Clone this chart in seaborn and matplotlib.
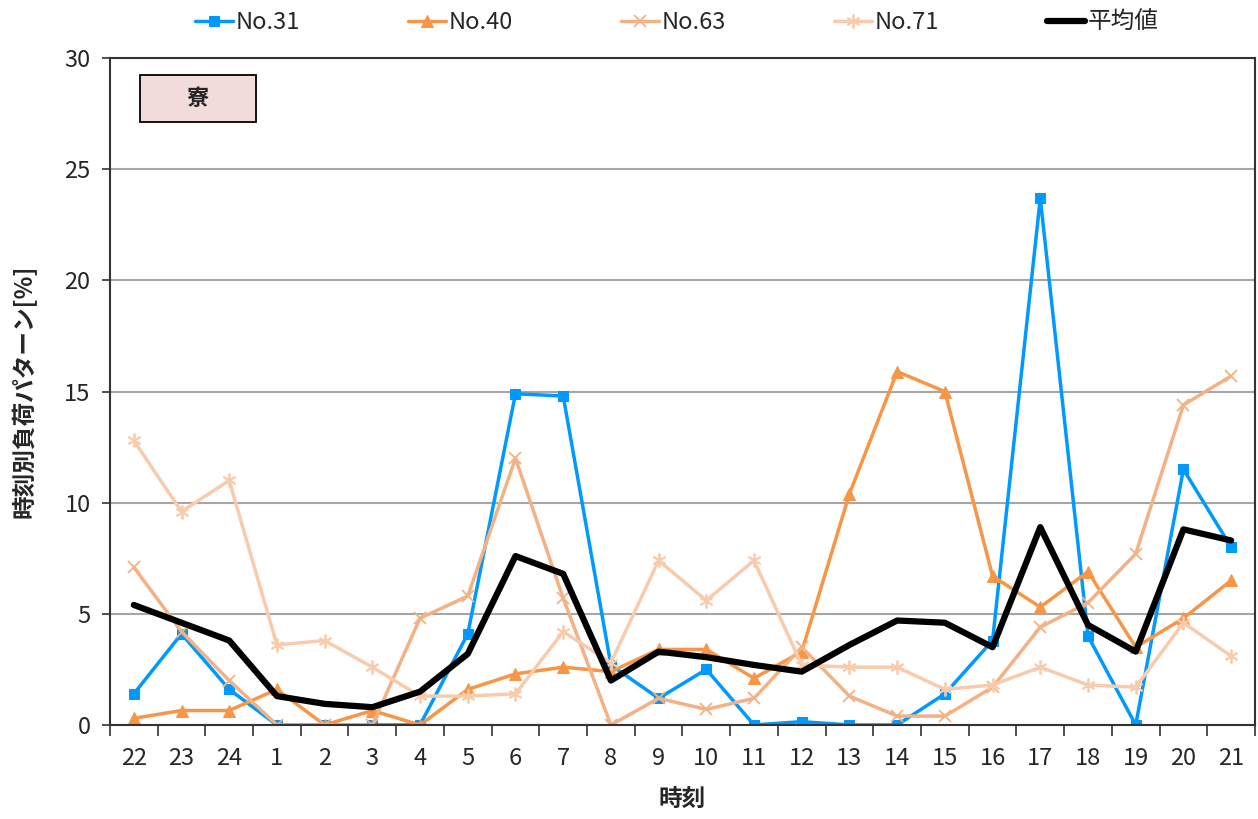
import numpy as np
import pandas as pd
import matplotlib
matplotlib.use("Agg")
import matplotlib.pyplot as plt
import seaborn as sns
from matplotlib.patches import Rectangle
from matplotlib.ticker import FixedLocator, MultipleLocator

# 時刻 (22時始まり)
hours = ["22", "23", "24", "1", "2", "3", "4", "5", "6", "7", "8", "9",
         "10", "11", "12", "13", "14", "15", "16", "17", "18", "19", "20", "21"]

no31 = [1.4, 4.1, 1.6, 0.0, 0.0, 0.0, 0.0, 4.1, 14.9, 14.8, 2.7, 1.2,
        2.5, 0.0, 0.15, 0.0, 0.0, 1.4, 3.8, 23.7, 4.0, 0.0, 11.5, 8.0]
no40 = [0.3, 0.65, 0.65, 1.6, 0.0, 0.65, 0.0, 1.6, 2.3, 2.6, 2.4, 3.4,
        3.4, 2.1, 3.3, 10.4, 15.9, 15.0, 6.7, 5.3, 6.9, 3.5, 4.8, 6.5]
no63 = [7.1, 4.2, 2.0, 0.0, 0.0, 0.0, 4.8, 5.8, 12.0, 5.7, 0.0, 1.2,
        0.7, 1.2, 3.5, 1.3, 0.4, 0.4, 1.7, 4.4, 5.5, 7.7, 14.4, 15.7]
no71 = [12.8, 9.6, 11.0, 3.6, 3.8, 2.6, 1.3, 1.3, 1.4, 4.2, 2.8, 7.4,
        5.6, 7.4, 2.7, 2.6, 2.6, 1.6, 1.8, 2.6, 1.8, 1.7, 4.6, 3.1]
mean = [5.4, 4.6, 3.8, 1.3, 0.95, 0.8, 1.5, 3.2, 7.6, 6.8, 2.0, 3.3,
        3.05, 2.7, 2.4, 3.6, 4.7, 4.6, 3.5, 8.9, 4.5, 3.3, 8.8, 8.3]

series_names = ["No.31", "No.40", "No.63", "No.71", "平均値"]
series_vals = [no31, no40, no63, no71, mean]

sns.set_theme(style="white")
plt.rcParams["font.family"] = ["Noto Sans CJK JP", "DejaVu Sans"]

fig = plt.figure(figsize=(12.58, 8.19), dpi=100)
ax = fig.add_axes([0.0874, 0.1148, 0.9102, 0.8142])

styles = {
    "No.31": dict(color="#0099FF", marker="s", markersize=7, linewidth=2.5),
    "No.40": dict(color="#F79646", marker="^", markersize=9, linewidth=2.5),
    "No.63": dict(color="#F4B183", marker="x", markersize=9, markeredgewidth=1.3, linewidth=2.5),
    "No.71": dict(color="#F8CBAD", marker=(6, 2, 0), markersize=10, markeredgewidth=1.3, linewidth=2.5),
    "平均値": dict(color="black", marker=None, linewidth=4.5),
}

x = np.arange(len(hours))
for name, vals in zip(series_names, series_vals):
    df = pd.DataFrame({"x": x, "y": vals})
    sns.lineplot(data=df, x="x", y="y", ax=ax, label=name, sort=False,
                 markeredgecolor=styles[name]["color"], **styles[name])

ax.set_xlim(-0.5, len(hours) - 0.5)
ax.set_ylim(0, 30)
ax.yaxis.set_major_locator(MultipleLocator(5))
ax.grid(axis="y", color="#A6A6A6", linewidth=1.5)
ax.set_axisbelow(True)

ax.set_xticks(x)
ax.set_xticklabels(hours)
ax.xaxis.set_minor_locator(FixedLocator(np.arange(-0.5, len(hours), 1.0)))
ax.tick_params(axis="x", which="major", length=0, labelsize=17, pad=16)
ax.tick_params(axis="x", which="minor", length=8, width=1.2, color="#333333", direction="out", bottom=True)
ax.tick_params(axis="y", which="major", length=6, width=1.2, color="#333333", direction="out", left=True,
               labelsize=17, pad=8)

for s in ax.spines.values():
    s.set_color("#333333")
    s.set_linewidth(1.5)

ax.set_xlabel("時刻", fontsize=17, fontweight="bold", labelpad=12)
ax.set_ylabel("時刻別負荷パターン[%]", fontsize=17, fontweight="bold", labelpad=20)

# 区分ラベル
ax.add_patch(Rectangle((0.0262, 0.904), 0.1013, 0.0705, transform=ax.transAxes,
                       facecolor="#F2DCDB", edgecolor="black", linewidth=1.3, zorder=5))
ax.text(0.0768, 0.939, "寮", transform=ax.transAxes, ha="center", va="center",
        fontsize=16, fontweight="bold", zorder=6)

ax.get_legend().remove()
handles, labels = ax.get_legend_handles_labels()
fig.legend(handles, labels, loc="upper center", bbox_to_anchor=(0.538, 1.012), ncol=5,
           frameon=False, fontsize=17, columnspacing=4.6, handlelength=1.6, handletextpad=0.1)

fig.savefig("out.png", dpi=100)
